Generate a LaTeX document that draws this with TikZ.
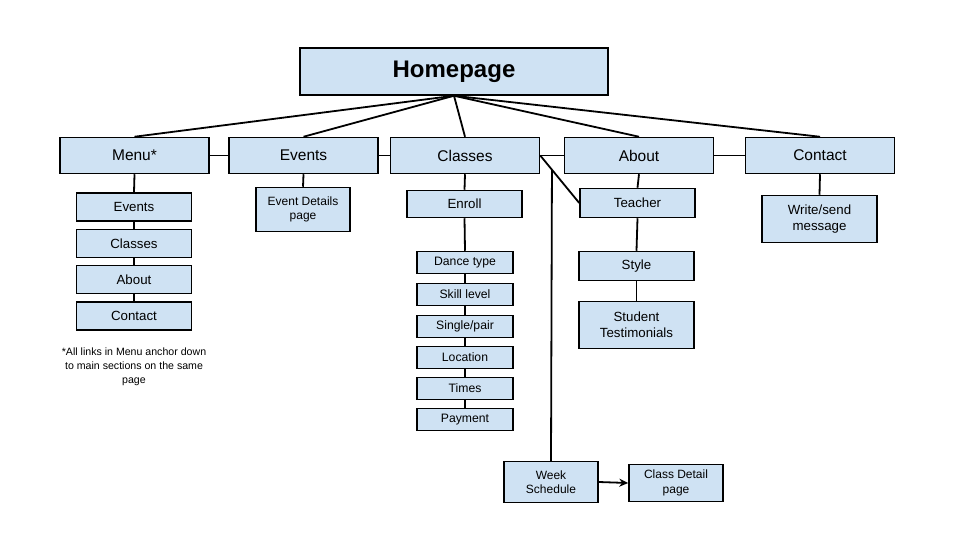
\documentclass[tikz,border=0pt]{standalone}
\usepackage{fontspec}
\setmainfont{Liberation Sans}
\usetikzlibrary{arrows.meta,calc}
\definecolor{boxblue}{HTML}{CFE2F3}
\begin{document}
\begin{tikzpicture}[x=1pt,y=-1pt,
  box/.style={draw=black, line width=1.5pt, fill=boxblue, inner sep=0pt, align=center},
  lvone/.style={box, minimum width=149pt, minimum height=36pt, font=\fontsize{15.5}{18}\selectfont},
  lvtwo/.style={box, minimum width=115pt, font=\fontsize{13.3}{16}\selectfont},
  lvsub/.style={box, minimum width=96pt, minimum height=22pt, font=\fontsize{12.2}{14}\selectfont},
  link/.style={line width=1.8pt, draw=black}]
\useasboundingbox (0,0) rectangle (960,540);

\node[box, minimum width=308pt, minimum height=47pt, font=\bfseries\fontsize{24}{26}\selectfont] (home) at (454,71.5) {Homepage};

\node[lvone] (menu) at (134.5,155.5) {Menu*};
\node[lvone] (events) at (303.5,155.5) {Events};
\node[lvone] (classes) at (465,155.5) {Classes};
\node[lvone] (about) at (639,155.5) {About};
\node[lvone] (contact) at (820,155.5) {Contact};

\node[lvtwo, minimum height=28pt] (m1) at (134,207) {Events};
\node[lvtwo, minimum height=28pt] (m2) at (134,243.5) {Classes};
\node[lvtwo, minimum height=28pt] (m3) at (134,279.5) {About};
\node[lvtwo, minimum height=28pt] (m4) at (134,316) {Contact};
\node[align=center, font=\fontsize{10.6}{14}\selectfont] (note) at (134,366.5) {*All links in Menu anchor down\\to main sections on the same\\page};

\node[lvtwo, minimum width=94pt, minimum height=44pt, font=\fontsize{12}{14.5}\selectfont] (evd) at (303,209.5) {Event Details\\page};

\node[lvtwo, minimum height=27pt] (enroll) at (464.5,204) {Enroll};
\node[lvsub] (s1) at (465,262.5) {Dance type};
\node[lvsub] (s2) at (465,294.5) {Skill level};
\node[lvsub] (s3) at (465,326.5) {Single/pair};
\node[lvsub] (s4) at (465,357.5) {Location};
\node[lvsub] (s5) at (465,388.5) {Times};
\node[lvsub] (s6) at (465,419.5) {Payment};

\node[lvtwo, minimum height=29pt] (teacher) at (637.5,203) {Teacher};
\node[lvtwo, minimum height=29pt] (style) at (636.5,266) {Style};
\node[lvtwo, minimum height=47pt] (testi) at (636.5,325) {Student\\Testimonials};

\node[lvtwo, minimum height=47pt] (write) at (819.5,219) {Write/send\\message};

\node[lvtwo, minimum width=94pt, minimum height=41pt, font=\fontsize{12}{14.5}\selectfont] (week) at (551,482) {Week\\Schedule};
\node[lvtwo, minimum width=94pt, minimum height=37pt, font=\fontsize{12}{14.5}\selectfont] (cdp) at (676,483) {Class Detail\\page};

% connectors from homepage
\foreach \t in {menu,events,classes,about,contact}
  \draw[link] (home.south) -- (\t.north);
% horizontal chain
\draw[link] (menu.east) -- (events.west);
\draw[link] (events.east) -- (classes.west);
\draw[link] (classes.east) -- (about.west);
\draw[link] (about.east) -- (contact.west);
% menu
\draw[link] (menu.south) -- (m1.north);
\draw[link] (m1.south) -- (m2.north);
\draw[link] (m2.south) -- (m3.north);
\draw[link] (m3.south) -- (m4.north);
% events
\draw[link] (events.south) -- (evd.north);
% classes
\draw[link] (classes.south) -- (enroll.north);
\draw[link] (enroll.south) -- (s1.north);
\draw[link] (s1.south) -- (s2.north);
\draw[link] (s2.south) -- (s3.north);
\draw[link] (s3.south) -- (s4.north);
\draw[link] (s4.south) -- (s5.north);
\draw[link] (s5.south) -- (s6.north);
\draw[link] (classes.east) -- (teacher.west);
\coordinate (wk) at ($(classes.east)!0.3!(teacher.west)$);
\draw[link] (wk) -- (week.north);
\draw[link, -{Stealth[length=9pt,width=8pt]}] (week.east) -- (cdp.west);
% about
\draw[link] (about.south) -- (teacher.north);
\draw[link] (teacher.south) -- (style.north);
\draw[link] (style.south) -- (testi.north);
% contact
\draw[link] (contact.south) -- (write.north);
\end{tikzpicture}
\end{document}
